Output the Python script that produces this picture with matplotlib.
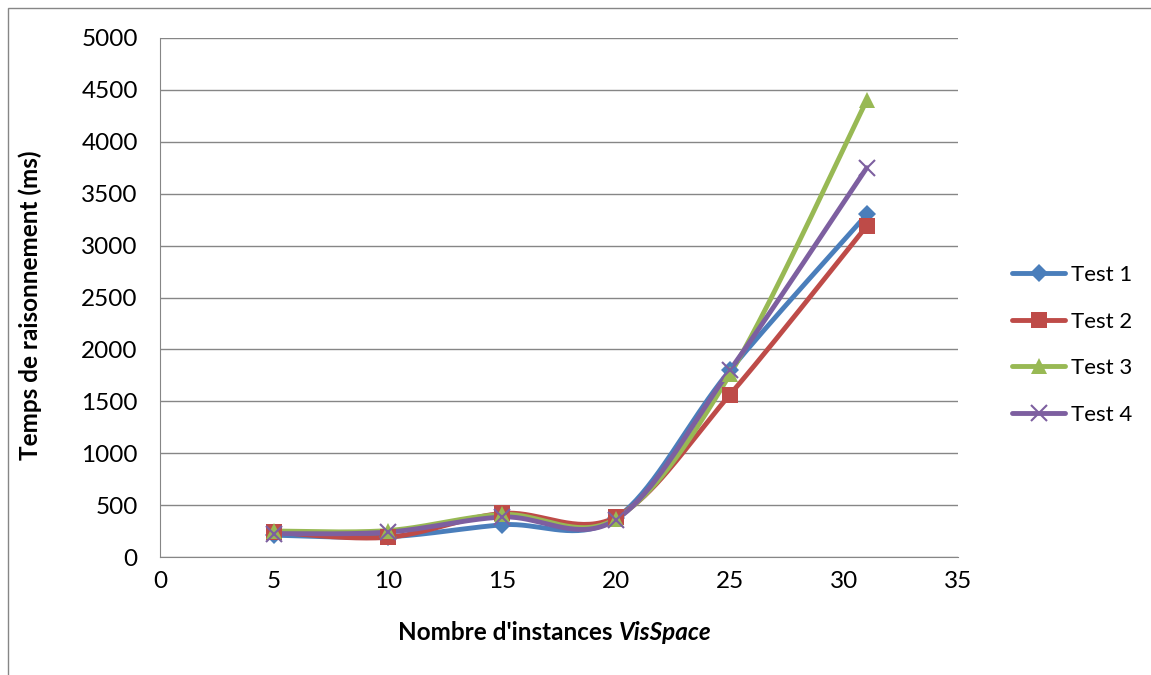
import matplotlib
matplotlib.use("Agg")
import matplotlib.pyplot as plt
from matplotlib.patches import Rectangle
import numpy as np

plt.rcParams["font.family"] = ["Lato", "DejaVu Sans"]

# data
x_vals = [5, 10, 15, 20, 25, 31]
series_names = ["Test 1", "Test 2", "Test 3", "Test 4"]
test1 = [210, 195, 310, 375, 1800, 3300]
test2 = [240, 190, 420, 385, 1565, 3190]
test3 = [250, 255, 410, 370, 1760, 4400]
test4 = [225, 240, 385, 360, 1800, 3750]

colors = ["#4A7EBB", "#BE4B48", "#98B954", "#7D5FA0"]
markers = ["D", "s", "^", "x"]
msizes = [9, 12, 12, 12]


def smooth(xs, ys, n=40):
    # Excel-like smoothed line (Catmull-Rom Bezier through the points)
    xs = np.asarray(xs, float)
    ys = np.asarray(ys, float)
    px = np.concatenate([[xs[0]], xs, [xs[-1]]])
    py = np.concatenate([[ys[0]], ys, [ys[-1]]])
    out_x, out_y = [], []
    t = np.linspace(0, 1, n)
    for i in range(1, len(px) - 2):
        p0 = np.array([px[i], py[i]])
        p3 = np.array([px[i + 1], py[i + 1]])
        p1 = p0 + (np.array([px[i + 1], py[i + 1]]) - np.array([px[i - 1], py[i - 1]])) / 6
        p2 = p3 - (np.array([px[i + 2], py[i + 2]]) - np.array([px[i], py[i]])) / 6
        b = ((1 - t) ** 3)[:, None] * p0 + (3 * (1 - t) ** 2 * t)[:, None] * p1 \
            + (3 * (1 - t) * t ** 2)[:, None] * p2 + (t ** 3)[:, None] * p3
        out_x.extend(b[:, 0])
        out_y.extend(b[:, 1])
    return out_x, out_y


W, H = 1151, 675
fig = plt.figure(figsize=(W / 100, H / 100), dpi=100)
ax = fig.add_axes([160 / W, 1 - 557 / H, (958 - 160) / W, (557 - 38) / H])

# chart area border
fig.patches.append(Rectangle((8 / W, -0.01), 1.1, 1 - 8 / H + 0.01,
                             transform=fig.transFigure, fill=False,
                             edgecolor="#868686", linewidth=1))

handles = []
for ys, name, c, mk, ms in zip([test1, test2, test3, test4], series_names,
                               colors, markers, msizes):
    sx, sy = smooth(x_vals, ys)
    ax.plot(sx, sy, color=c, linewidth=3.5, solid_capstyle="round", zorder=3)
    mew = 1.5 if mk == "x" else 0
    ax.plot(x_vals, ys, linestyle="none", marker=mk, markersize=ms,
            color=c, markeredgewidth=mew, zorder=4)
    h, = ax.plot([], [], color=c, linewidth=3.5, marker=mk, markersize=ms,
                 markeredgewidth=mew, solid_capstyle="round", label=name)
    handles.append(h)

ax.set_xlim(0, 35)
ax.set_ylim(0, 5000)
ax.set_xticks(range(0, 36, 5))
ax.set_yticks(range(0, 5001, 500))
ax.yaxis.grid(True, color="#868686", linewidth=1)
ax.set_axisbelow(True)
for s in ["top", "right"]:
    ax.spines[s].set_visible(False)
for s in ["left", "bottom"]:
    ax.spines[s].set_color("#868686")
ax.tick_params(axis="both", labelsize=17.5, colors="#868686", labelcolor="black",
               length=0)
ax.tick_params(axis="y", pad=16)
ax.tick_params(axis="x", pad=10)

ax.set_ylabel("Temps de raisonnement (ms)", fontsize=17.5, fontweight="bold")
ax.yaxis.set_label_coords(-0.148, 0.486)

# x label: bold + bold italic part
t1 = fig.text(398 / W, 1 - 632 / H, "Nombre d'instances ", fontsize=17.5,
              fontweight="bold", va="center", ha="left")
ax.annotate("VisSpace", xy=(1, 0), xycoords=t1, va="bottom", ha="left",
            fontsize=17.5, fontweight="bold", fontstyle="italic")

fig.legend(handles=handles, loc="upper left",
           bbox_to_anchor=(1003 / W, 1 - 256 / H), frameon=False,
           fontsize=16, labelspacing=1.2, handlelength=2.4,
           handletextpad=0.25, borderaxespad=0)

fig.savefig("out.png", dpi=100, facecolor="white")
